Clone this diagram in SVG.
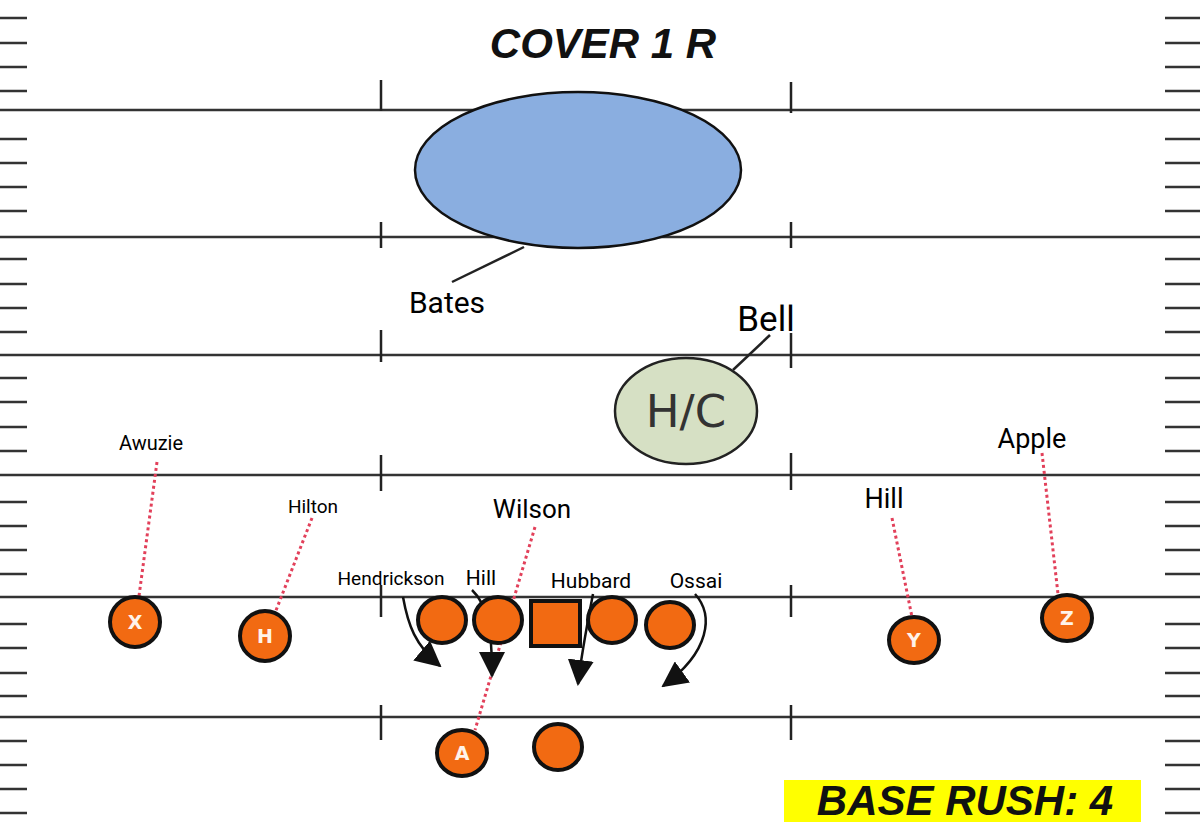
<svg xmlns="http://www.w3.org/2000/svg" width="1200" height="830" viewBox="0 0 1200 830">
<defs>
<style>
.yard{stroke:#333;stroke-width:2.5;fill:none}
.tick{stroke:#333;stroke-width:2.5}
.hash{stroke:#222;stroke-width:2.5}
.ptr{stroke:#e2405a;stroke-width:3;stroke-dasharray:3 3;fill:none}
.lead{stroke:#222;stroke-width:2.5;fill:none}
.arr{stroke:#111;stroke-width:2.5;fill:none;marker-end:url(#head)}
.pl{fill:#f26a12;stroke:#111;stroke-width:4}
.ltr{font-family:"DejaVu Sans",sans-serif;font-weight:bold;font-size:19px;fill:#fff3ea;text-anchor:middle}
.lbl{font-family:Roboto,"Liberation Sans",sans-serif;fill:#000}
.big{font-family:"Liberation Sans",Arial,sans-serif;font-weight:bold;font-style:italic;font-size:42px;fill:#111}
</style>
<marker id="head" viewBox="0 0 26 26" refX="24" refY="13" markerWidth="26" markerHeight="26" markerUnits="userSpaceOnUse" orient="auto">
<path d="M0,0 L26,13 L0,26 Z" fill="#111"/>
</marker>
</defs>
<rect width="1200" height="830" fill="#fff"/>
<g id="field">
<g id="yardlines">
<line class="yard" x1="0" y1="110" x2="1200" y2="110"/>
<line class="yard" x1="0" y1="237" x2="1200" y2="237"/>
<line class="yard" x1="0" y1="355" x2="1200" y2="355"/>
<line class="yard" x1="0" y1="475" x2="1200" y2="475"/>
<line class="yard" x1="0" y1="597" x2="1200" y2="597"/>
<line class="yard" x1="0" y1="717" x2="1200" y2="717"/>
</g>
<g id="sideticks">
<path class="tick" d="M0,18H27M0,43H27M0,67H27M0,91H27M0,139H27M0,163H27M0,187H27M0,211H27M0,259H27M0,284H27M0,308H27M0,332H27M0,378H27M0,402H27M0,427H27M0,451H27M0,502H27M0,526H27M0,550H27M0,574H27M0,624H27M0,648H27M0,673H27M0,696H27M0,741H27M0,765H27M0,789H27M0,813H27"/>
<path class="tick" d="M1165,18H1200M1165,43H1200M1165,67H1200M1165,91H1200M1165,139H1200M1165,163H1200M1165,187H1200M1165,211H1200M1165,259H1200M1165,284H1200M1165,308H1200M1165,332H1200M1165,378H1200M1165,402H1200M1165,427H1200M1165,451H1200M1165,502H1200M1165,526H1200M1165,550H1200M1165,574H1200M1165,624H1200M1165,648H1200M1165,673H1200M1165,696H1200M1165,741H1200M1165,765H1200M1165,789H1200M1165,813H1200"/>
</g>
<g id="hashes">
<path class="hash" d="M381,80V111M381,222V248M381,330V362M381,455V491M381,585V617M381,705V740"/>
<path class="hash" d="M791,82V113M791,222V248M791,333V368M791,453V490M791,585V617M791,705V740"/>
</g>
</g>
<text id="title" class="big" x="603" y="58" text-anchor="middle">COVER 1 R</text>
<g id="connectors">
<line class="lead" x1="524" y1="247" x2="452" y2="282"/>
<line class="lead" x1="770" y1="335" x2="733" y2="370"/>
<line class="ptr" x1="157" y1="462" x2="139" y2="596"/>
<line class="ptr" x1="312" y1="518" x2="275" y2="613"/>
<line class="ptr" x1="535" y1="527" x2="475" y2="730"/>
<line class="ptr" x1="892" y1="518" x2="912" y2="617"/>
<line class="ptr" x1="1042" y1="453" x2="1058" y2="594"/>
<path class="arr" d="M403,597 C408,625 415,645 440,666"/>
<path class="arr" d="M472,590 C488,605 492,630 492,676"/>
<path class="arr" d="M593,594 C588,620 582,650 578,684"/>
<path class="arr" d="M695,594 C714,615 710,652 663,686"/>
</g>
<g id="bates">
<ellipse cx="578" cy="170" rx="163" ry="78" fill="#8aaee0" stroke="#111" stroke-width="2.5"/>
<text class="lbl" x="447" y="313" font-size="30" text-anchor="middle">Bates</text>
</g>
<g id="bell">
<ellipse cx="686" cy="411" rx="71" ry="53" fill="#d6e0c4" stroke="#222" stroke-width="2.5"/>
<text x="686" y="427" font-family="'DejaVu Sans',sans-serif" font-size="45" fill="#333" text-anchor="middle">H/C</text>
<text class="lbl" x="766" y="331" font-size="35" text-anchor="middle">Bell</text>
</g>
<g id="awuzie">
<circle class="pl" cx="135" cy="622" r="25"/>
<text class="ltr" x="135" y="629">X</text>
<text class="lbl" x="151" y="450" font-size="20" text-anchor="middle">Awuzie</text>
</g>
<g id="hilton">
<circle class="pl" cx="265" cy="636" r="25"/>
<text class="ltr" x="265" y="643">H</text>
<text class="lbl" x="313" y="513" font-size="19" text-anchor="middle">Hilton</text>
</g>
<g id="hendrickson">
<ellipse class="pl" cx="442" cy="620" rx="24" ry="23"/>
<text class="lbl" x="391" y="585" font-size="19" text-anchor="middle" textLength="107" lengthAdjust="spacingAndGlyphs">Hendrickson</text>
</g>
<g id="hill-dt">
<ellipse class="pl" cx="498" cy="620" rx="24" ry="23"/>
<text class="lbl" x="481" y="585" font-size="21" text-anchor="middle">Hill</text>
</g>
<g id="center">
<rect class="pl" x="531" y="601" width="49" height="45"/>
</g>
<g id="hubbard">
<ellipse class="pl" cx="612" cy="620" rx="24" ry="23"/>
<text class="lbl" x="591" y="588" font-size="21" text-anchor="middle">Hubbard</text>
</g>
<g id="ossai">
<ellipse class="pl" cx="670" cy="625" rx="24" ry="23"/>
<text class="lbl" x="696" y="588" font-size="21" text-anchor="middle">Ossai</text>
</g>
<g id="wilson">
<ellipse class="pl" cx="462" cy="753" rx="25" ry="23"/>
<text class="ltr" x="462" y="760">A</text>
<text class="lbl" x="532" y="518" font-size="26" text-anchor="middle">Wilson</text>
</g>
<g id="qb">
<ellipse class="pl" cx="558" cy="747" rx="24" ry="23"/>
</g>
<g id="hill-y">
<ellipse class="pl" cx="914" cy="640" rx="25" ry="23"/>
<text class="ltr" x="914" y="647">Y</text>
<text class="lbl" x="884" y="508" font-size="27" text-anchor="middle">Hill</text>
</g>
<g id="apple">
<ellipse class="pl" cx="1067" cy="618" rx="25" ry="23"/>
<text class="ltr" x="1067" y="625">Z</text>
<text class="lbl" x="1032" y="448" font-size="27" text-anchor="middle">Apple</text>
</g>
<g id="base-rush">
<rect x="784" y="780" width="357" height="42" fill="#ffff00"/>
<text class="big" x="965" y="815" text-anchor="middle">BASE RUSH: 4</text>
</g>
</svg>
